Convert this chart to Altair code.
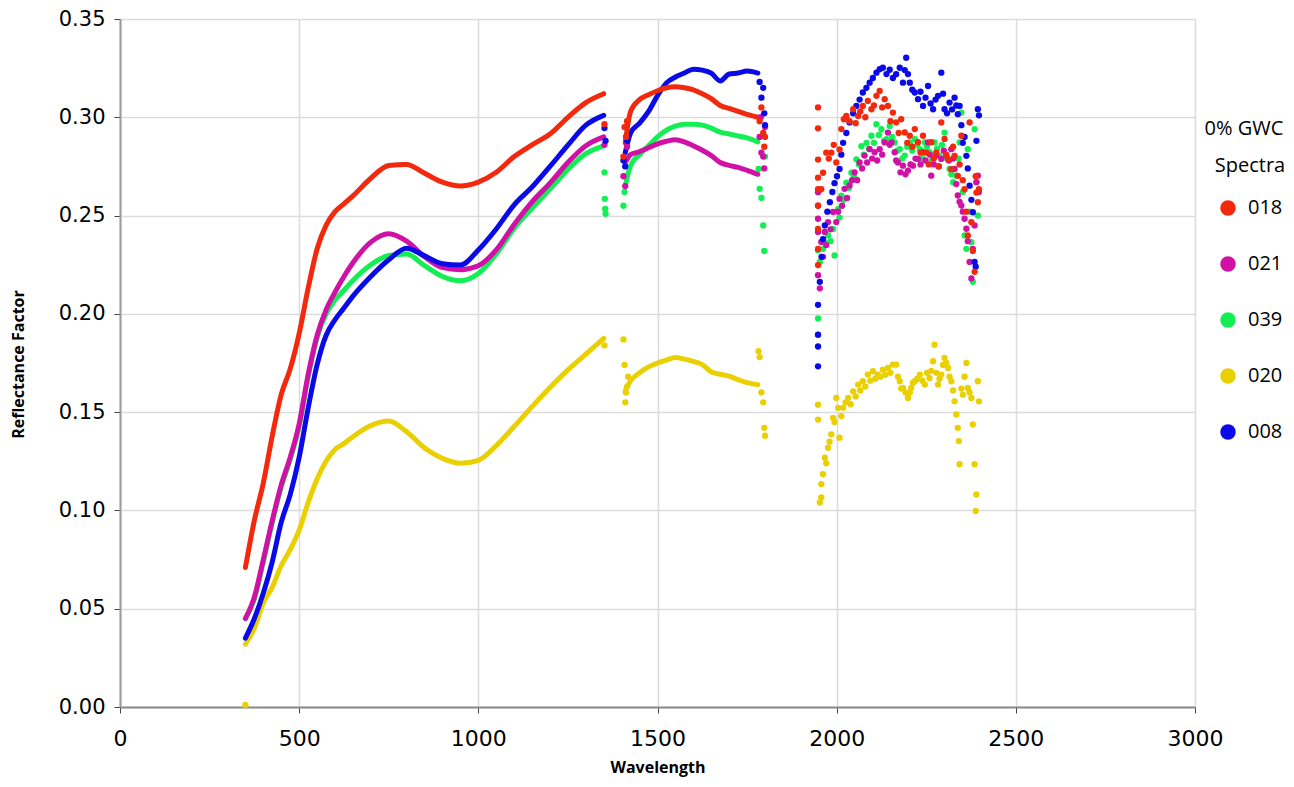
import altair as alt
import pandas as pd

# ---------------- data ----------------
SERIES = ["018", "021", "039", "020", "008"]
COLORS = ["#f2290c", "#cf12a5", "#14ee55", "#ead000", "#0a0ae8"]
DRAW_ORDER = ["020", "039", "021", "008", "018"]

LEGEND_TITLE = ["0% GWC", "Spectra"]

# smooth segment 1 (350-1350 nm)
GRID_A = [350, 375, 400, 425, 450, 475, 500, 525, 550, 575, 600, 625, 650,
          700, 750, 800, 850, 900, 950, 1000, 1050, 1100, 1150, 1200, 1250, 1300, 1350]
SEG_A = {
    "018": [0.071, 0.095, 0.114, 0.138, 0.159, 0.172, 0.190, 0.213, 0.233, 0.245, 0.252, 0.256, 0.260,
            0.269, 0.2755, 0.276, 0.2715, 0.267, 0.265, 0.267, 0.272, 0.280, 0.286, 0.2915, 0.300, 0.3075, 0.312],
    "021": [0.045, 0.056, 0.075, 0.095, 0.113, 0.127, 0.144, 0.169, 0.189, 0.202, 0.211, 0.219, 0.226,
            0.2365, 0.2408, 0.237, 0.229, 0.2235, 0.2225, 0.2245, 0.2325, 0.2455, 0.257, 0.2665, 0.277, 0.2855, 0.290],
    "039": [0.045, 0.055, 0.074, 0.094, 0.112, 0.126, 0.143, 0.168, 0.188, 0.200, 0.207, 0.212, 0.217,
            0.225, 0.2297, 0.2305, 0.2245, 0.219, 0.2168, 0.2205, 0.2305, 0.2435, 0.2537, 0.2635, 0.2735, 0.2815, 0.2855],
    "020": [0.032, 0.040, 0.053, 0.061, 0.072, 0.080, 0.090, 0.104, 0.116, 0.125, 0.131, 0.134, 0.1375,
            0.1432, 0.1455, 0.140, 0.1318, 0.1265, 0.124, 0.1255, 0.133, 0.1427, 0.1528, 0.1625, 0.1715, 0.1795, 0.1875],
    "008": [0.035, 0.045, 0.058, 0.074, 0.094, 0.108, 0.127, 0.152, 0.174, 0.189, 0.197, 0.203, 0.209,
            0.219, 0.2275, 0.2334, 0.2295, 0.2255, 0.2248, 0.2325, 0.2432, 0.2555, 0.2645, 0.275, 0.2858, 0.296, 0.301],
}

# smooth segment 2 (1410-1780 nm)
GRID_B = [1410, 1425, 1450, 1475, 1500, 1525, 1550, 1575, 1600, 1625, 1650, 1675, 1700, 1725, 1750, 1780]
SEG_B = {
    "018": [0.287, 0.303, 0.309, 0.3115, 0.3135, 0.315, 0.3155, 0.315, 0.314, 0.312, 0.3095, 0.306, 0.3045, 0.303, 0.3015, 0.300],
    "021": [0.277, 0.281, 0.2825, 0.2845, 0.2865, 0.2878, 0.2886, 0.2875, 0.2855, 0.2832, 0.2805, 0.277, 0.2755, 0.2745, 0.273, 0.271],
    "039": [0.265, 0.2755, 0.281, 0.2855, 0.290, 0.2935, 0.2955, 0.2965, 0.2965, 0.296, 0.2945, 0.2925, 0.2915, 0.2905, 0.2895, 0.2875],
    "020": [0.161, 0.166, 0.170, 0.173, 0.175, 0.1765, 0.1778, 0.177, 0.1758, 0.1742, 0.1705, 0.1693, 0.1683, 0.1665, 0.165, 0.164],
    "008": [0.282, 0.292, 0.297, 0.303, 0.311, 0.3175, 0.3205, 0.3225, 0.3245, 0.324, 0.3225, 0.3185, 0.322, 0.3225, 0.3235, 0.3225],
}

# scattered (noisy) readings
DOT_WL = {
    "018": [1352, 1405, 1408, 1412, 1415, 1785, 1790, 1795, 1798, 1800,
            1948, 1948, 1948, 1948, 1948, 1948, 1948, 1948, 1948, 1957, 1962, 1971, 1978, 1985, 1992, 1999,
            2008, 2013, 2020, 2027, 2036, 2046, 2053, 2060, 2066, 2073, 2080, 2087, 2097, 2104, 2111, 2120,
            2127, 2134, 2143, 2150, 2157, 2166, 2173, 2180, 2190, 2197, 2204, 2211, 2218, 2227, 2234, 2241,
            2250, 2257, 2264, 2271, 2278, 2285, 2292, 2301, 2306, 2311, 2320, 2325, 2329, 2338, 2343, 2348,
            2352, 2357, 2362, 2366, 2371, 2376, 2380, 2385, 2388, 2390, 2394, 2397],
    "021": [1352, 1405, 1410, 1415, 1785, 1788, 1790, 1795, 1798, 1800,
            1948, 1948, 1948, 1948, 1948, 1953, 1957, 1962, 1967, 1971, 1976, 1983, 1990, 1999, 2004, 2008,
            2015, 2022, 2029, 2036, 2043, 2050, 2057, 2064, 2071, 2078, 2085, 2092, 2099, 2106, 2113, 2120,
            2127, 2134, 2143, 2148, 2153, 2162, 2166, 2171, 2178, 2185, 2192, 2199, 2206, 2213, 2220, 2227,
            2234, 2241, 2248, 2255, 2260, 2264, 2271, 2278, 2285, 2292, 2299, 2306, 2313, 2320, 2325, 2329,
            2334, 2338, 2343, 2348, 2352, 2357, 2362, 2366, 2371, 2376, 2380, 2385, 2390, 2394, 2397],
    "039": [1352, 1353, 1354, 1355, 1405, 1408, 1412, 1782, 1785, 1790, 1795, 1798, 1800,
            1948, 1948, 1948, 1953, 1958, 1962, 1969, 1976, 1983, 1990, 1994, 2004, 2008, 2013, 2020, 2027,
            2034, 2041, 2048, 2055, 2062, 2069, 2076, 2083, 2090, 2097, 2104, 2111, 2118, 2125, 2132, 2139,
            2148, 2155, 2162, 2169, 2176, 2183, 2190, 2197, 2204, 2211, 2218, 2225, 2232, 2239, 2246, 2252,
            2259, 2266, 2273, 2280, 2287, 2294, 2301, 2308, 2315, 2320, 2325, 2334, 2340, 2343, 2348, 2352,
            2357, 2362, 2366, 2371, 2376, 2380, 2385, 2390, 2394],
    "020": [350, 1352, 1405, 1408, 1410, 1412, 1415, 1418, 1782, 1785, 1790, 1795, 1798, 1800,
            1948, 1948, 1953, 1957, 1957, 1962, 1967, 1971, 1976, 1980, 1985, 1990, 1994, 1999, 2004, 2008,
            2013, 2018, 2025, 2032, 2039, 2046, 2053, 2060, 2066, 2073, 2080, 2087, 2094, 2101, 2108, 2115,
            2122, 2129, 2136, 2143, 2150, 2157, 2166, 2171, 2176, 2180, 2185, 2192, 2199, 2204, 2208, 2213,
            2218, 2225, 2232, 2239, 2246, 2252, 2259, 2264, 2269, 2273, 2278, 2283, 2287, 2292, 2297, 2301,
            2306, 2311, 2315, 2320, 2325, 2329, 2334, 2338, 2341, 2343, 2348, 2352, 2357, 2362, 2366, 2371,
            2376, 2380, 2385, 2388, 2390, 2394, 2397],
    "008": [1352, 1355, 1405, 1410, 1415, 1785, 1790, 1795, 1798, 1800,
            1948, 1948, 1948, 1948, 1953, 1958, 1962, 1967, 1974, 1981, 1988, 1994, 2001, 2008, 2013, 2018,
            2027, 2036, 2046, 2055, 2064, 2073, 2083, 2092, 2101, 2111, 2120, 2129, 2139, 2148, 2157, 2166,
            2176, 2185, 2190, 2194, 2199, 2204, 2211, 2218, 2227, 2234, 2241, 2248, 2255, 2262, 2269, 2276,
            2283, 2292, 2297, 2301, 2308, 2315, 2322, 2329, 2334, 2338, 2343, 2348, 2352, 2357, 2362, 2366,
            2371, 2376, 2380, 2385, 2388, 2390, 2394, 2397],
}
DOT_VAL = {
    "018": [0.2965, 0.280, 0.295, 0.290, 0.298, 0.298, 0.305, 0.292, 0.285, 0.290,
            0.305, 0.2944, 0.2785, 0.2693, 0.2634, 0.255, 0.2432, 0.233, 0.2248, 0.2634, 0.2718, 0.282, 0.279, 0.282, 0.286, 0.277,
            0.2836, 0.294, 0.299, 0.3007, 0.298, 0.3041, 0.297, 0.3007, 0.303, 0.3058, 0.300, 0.3083, 0.3041, 0.306, 0.3109, 0.3134,
            0.305, 0.3092, 0.3058, 0.298, 0.3024, 0.2974, 0.292, 0.299, 0.2923, 0.287, 0.2906, 0.285, 0.294, 0.2873, 0.282, 0.2906,
            0.282, 0.276, 0.2873, 0.279, 0.282, 0.275, 0.2974, 0.289, 0.281, 0.2786, 0.2736, 0.285, 0.2803, 0.2702, 0.276, 0.2906,
            0.268, 0.2634, 0.252, 0.2399, 0.2974, 0.2466, 0.232, 0.2214, 0.270, 0.2617, 0.2568, 0.2634],
    "021": [0.286, 0.270, 0.265, 0.285, 0.290, 0.300, 0.282, 0.280, 0.274, 0.295,
            0.2619, 0.2551, 0.2484, 0.2417, 0.2197, 0.213, 0.2366, 0.229, 0.2417, 0.235, 0.2467, 0.243, 0.2518, 0.2467, 0.252, 0.2585,
            0.255, 0.2636, 0.259, 0.2653, 0.268, 0.272, 0.268, 0.277, 0.274, 0.2805, 0.277, 0.2838, 0.279, 0.2822, 0.278, 0.2838,
            0.281, 0.2872, 0.2922, 0.286, 0.2872, 0.2822, 0.278, 0.277, 0.272, 0.2754, 0.271, 0.2729, 0.276, 0.2754, 0.279, 0.2788,
            0.276, 0.2822, 0.278, 0.2872, 0.281, 0.2703, 0.276, 0.2805, 0.275, 0.2788, 0.283, 0.2805, 0.278, 0.2838, 0.279, 0.2737,
            0.266, 0.2602, 0.257, 0.2551, 0.252, 0.2484, 0.2433, 0.237, 0.2264, 0.218, 0.2331, 0.245, 0.267, 0.2703, 0.262],
    "039": [0.272, 0.2585, 0.2534, 0.2509, 0.255, 0.262, 0.270, 0.2737, 0.2636, 0.259, 0.245, 0.232, 0.280,
            0.1893, 0.1977, 0.2323, 0.2264, 0.229, 0.2331, 0.236, 0.2399, 0.237, 0.2432, 0.2297, 0.2533, 0.249, 0.2601, 0.258, 0.2668,
            0.264, 0.2718, 0.270, 0.2786, 0.276, 0.2853, 0.281, 0.287, 0.284, 0.2906, 0.287, 0.2965, 0.291, 0.2939, 0.288, 0.2889,
            0.2956, 0.290, 0.2872, 0.283, 0.2838, 0.279, 0.2805, 0.285, 0.2872, 0.283, 0.2889, 0.286, 0.2838, 0.279, 0.2872, 0.285,
            0.2822, 0.278, 0.2872, 0.284, 0.2805, 0.286, 0.2922, 0.279, 0.2737, 0.271, 0.267, 0.2703, 0.279, 0.2872, 0.3024, 0.262,
            0.2399, 0.2331, 0.2838, 0.252, 0.2365, 0.2163, 0.2939, 0.267, 0.250],
    "020": [0.001, 0.184, 0.187, 0.174, 0.155, 0.160, 0.163, 0.168, 0.181, 0.178, 0.160, 0.155, 0.142, 0.138,
            0.1538, 0.1462, 0.104, 0.1066, 0.1134, 0.1184, 0.1268, 0.124, 0.1319, 0.135, 0.1387, 0.1471, 0.145, 0.1572, 0.1522, 0.137,
            0.148, 0.1522, 0.155, 0.1572, 0.154, 0.1606, 0.158, 0.164, 0.161, 0.1657, 0.163, 0.1691, 0.166, 0.1708, 0.167, 0.1691,
            0.168, 0.1716, 0.169, 0.1725, 0.170, 0.1742, 0.1742, 0.168, 0.1657, 0.162, 0.1623, 0.160, 0.1572, 0.160, 0.1623, 0.165,
            0.1657, 0.167, 0.1691, 0.166, 0.164, 0.170, 0.1674, 0.171, 0.1759, 0.1843, 0.170, 0.164, 0.167, 0.1691, 0.174, 0.1776,
            0.175, 0.1725, 0.168, 0.1657, 0.161, 0.1555, 0.1488, 0.142, 0.1353, 0.1235, 0.162, 0.1589, 0.168, 0.175, 0.1623, 0.160,
            0.1572, 0.1437, 0.1235, 0.0997, 0.1081, 0.1657, 0.1555],
    "008": [0.2945, 0.288, 0.278, 0.275, 0.288, 0.318, 0.310, 0.315, 0.302, 0.296,
            0.1733, 0.1834, 0.1894, 0.2046, 0.2163, 0.229, 0.238, 0.245, 0.252, 0.2568, 0.262, 0.2665, 0.270, 0.2737, 0.281, 0.287,
            0.292, 0.2974, 0.302, 0.3058, 0.309, 0.3126, 0.315, 0.3176, 0.320, 0.3227, 0.3245, 0.3252, 0.322, 0.3242, 0.320, 0.3219,
            0.3252, 0.3176, 0.324, 0.3303, 0.322, 0.3176, 0.314, 0.3126, 0.3092, 0.313, 0.3058, 0.310, 0.3159, 0.307, 0.3041, 0.309,
            0.3109, 0.3227, 0.312, 0.3041, 0.302, 0.3075, 0.304, 0.310, 0.306, 0.3016, 0.3058, 0.296, 0.287, 0.290, 0.2804, 0.274,
            0.2652, 0.258, 0.2517, 0.2264, 0.224, 0.288, 0.3041, 0.301],
}

# ---------------- table ----------------
rows = []
for s in DRAW_ORDER:
    for w, v in zip(GRID_A, SEG_A[s]):
        rows.append({"Spectra": s, "wl": w, "val": v, "kind": "line", "seg": s + "a"})
    for w, v in zip(GRID_B, SEG_B[s]):
        rows.append({"Spectra": s, "wl": w, "val": v, "kind": "line", "seg": s + "b"})
    for w, v in zip(DOT_WL[s], DOT_VAL[s]):
        rows.append({"Spectra": s, "wl": w, "val": v, "kind": "dot", "seg": s + "d"})
df = pd.DataFrame(rows)

FONT = "DejaVu Sans"
TFONT = "Open Sans"

x_enc = alt.X("wl:Q", scale=alt.Scale(domain=[0, 3000], nice=False),
              axis=alt.Axis(values=[0, 500, 1000, 1500, 2000, 2500, 3000], format="d", title="Wavelength",
                            grid=True, gridColor="#dcdcdc", gridWidth=1.5, labelFlush=False,
                            domainColor="#8a8a8a", domainWidth=2, tickColor="#444444", tickSize=6,
                            labelFont=FONT, labelFontSize=22, labelColor="black", labelPadding=15,
                            titleFont=TFONT, titleFontSize=16, titleFontWeight="bold",
                            titleColor="black", titlePadding=10))
y_enc = alt.Y("val:Q", scale=alt.Scale(domain=[0, 0.35], nice=False),
              axis=alt.Axis(values=[0, 0.05, 0.10, 0.15, 0.20, 0.25, 0.30, 0.35], format=".2f",
                            title="Reflectance Factor", grid=True, gridColor="#dcdcdc", gridWidth=1.5,
                            labelFlush=False,
                            domainColor="#9a9a9a", domainWidth=2, tickColor="#444444", tickSize=6,
                            labelFont=FONT, labelFontSize=21, labelColor="black", labelPadding=9,
                            titleFont=TFONT, titleFontSize=16, titleFontWeight="bold",
                            titleColor="black", titleX=-94, titleY=345))

legend = alt.Legend(title=None, orient="none", legendX=1098, legendY=179, direction="vertical",
                    symbolType="circle", symbolSize=240, symbolStrokeWidth=0,
                    labelFont=TFONT, labelFontSize=20, labelColor="black", labelOffset=10,
                    rowPadding=36)
color_enc = alt.Color("Spectra:N", scale=alt.Scale(domain=SERIES, range=COLORS), legend=legend)

base = alt.Chart(df)
lines = base.transform_filter(alt.datum.kind == "line").mark_line(
    strokeWidth=5, interpolate="monotone", strokeCap="round", strokeJoin="round"
).encode(x=x_enc, y=y_enc, color=color_enc, detail="seg:N")
dots = base.transform_filter(alt.datum.kind == "dot").mark_circle(
    size=40, opacity=1
).encode(x=x_enc, y=y_enc, color=color_enc)

title_df = pd.DataFrame({"t": [LEGEND_TITLE[0]]})
title_df2 = pd.DataFrame({"t": [LEGEND_TITLE[1]]})
t1 = alt.Chart(title_df).mark_text(font=TFONT, fontSize=20, align="center", baseline="middle",
                                   color="black").encode(text="t:N", x=alt.value(1124), y=alt.value(110))
t2 = alt.Chart(title_df2).mark_text(font=TFONT, fontSize=20, align="center", baseline="middle",
                                    color="black").encode(text="t:N", x=alt.value(1130), y=alt.value(147))

chart = alt.layer(lines, dots, t1, t2).properties(
    width=1075, height=688,
    autosize=alt.AutoSizeParams(type="none"),
    padding={"left": 112, "top": 11, "right": 91, "bottom": 72},
).configure_view(stroke=None).configure(background="white")

chart.save("out.html", embed_options={"renderer": "svg", "actions": False})
